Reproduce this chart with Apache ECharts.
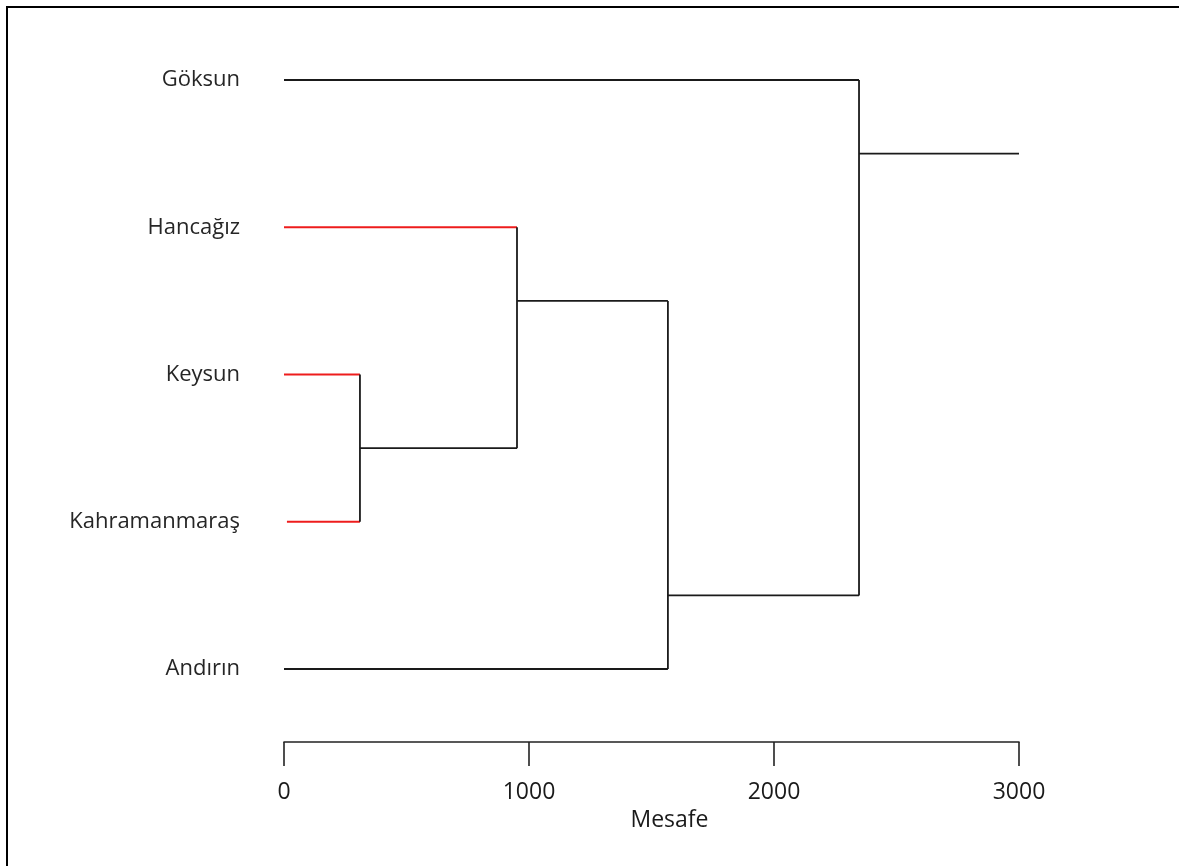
<!DOCTYPE html>
<html>
<head>
<meta charset="utf-8">
<script src="https://cdn.jsdelivr.net/npm/echarts@6/dist/echarts.min.js"></script>
<style>
  html, body { margin: 0; padding: 0; background: #fff; }
  #dendro { width: 1179px; height: 866px; }
</style>
</head>
<body>
<div id="dendro"></div>
<script>
// yapraklar (leaves), yukaridan asagiya
var leaves = ['Göksun', 'Hancağız', 'Keysun', 'Kahramanmaraş', 'Andırın'];
var leafStart = [0, 0, 0, 12, 0];          // yaprak cizgisinin basladigi mesafe
var leafRed = [false, true, true, true, false];

// birlesme dugumleri
var nodeNames = ['A', 'B', 'C', 'D'];
var nodeHeight = [310, 951, 1567, 2347];   // birlesme mesafesi
var nodeRow = [2.5, 1.5, 3.5, 0.5];        // dugumun dikey konumu (satir)
var nodeChildren = [[2, 3], [1, 'A'], ['B', 4], [0, 'C']];
var rootEnd = 3000;

var xTicks = [0, 1000, 2000, 3000];

var info = function (c) {
	if (typeof c === 'number') {
		return { x: leafStart[c], y: c, red: leafRed[c] };
	}
	var k = nodeNames.indexOf(c);
	return { x: nodeHeight[k], y: nodeRow[k], red: false };
};

// segment listesi: [x1, y1, x2, y2, kirmizi mi]
var segs = [];
for (var i = 0; i < nodeNames.length; i++) {
	var h = nodeHeight[i];
	var a = info(nodeChildren[i][0]);
	var b = info(nodeChildren[i][1]);
	segs.push([a.x, a.y, h, a.y, a.red ? 1 : 0]);
	segs.push([b.x, b.y, h, b.y, b.red ? 1 : 0]);
	segs.push([h, a.y, h, b.y, 0]);
}
var last = nodeNames.length - 1;
segs.push([nodeHeight[last], nodeRow[last], rootEnd, nodeRow[last], 0]);

var myChart = echarts.init(document.getElementById('dendro'));
var option = {
	backgroundColor: '#fff',
	animation: false,
	textStyle: { fontFamily: 'Open Sans' },
	graphic: [{
		type: 'rect',
		shape: { x: 7, y: 7, width: 1220, height: 920 },
		style: { fill: 'none', stroke: '#000', lineWidth: 2 }
	}],
	grid: { left: 284, right: 160, top: 80, height: 589 },
	xAxis: {
		type: 'value',
		position: 'bottom',
		min: 0,
		max: 3000,
		interval: 1000,
		offset: 73,
		name: 'Mesafe',
		nameLocation: 'middle',
		nameGap: 67,
		nameTextStyle: { color: '#1a1a1a', fontSize: 23, padding: [0, 0, 0, 36] },
		splitLine: { show: false },
		axisLine: { onZero: false, lineStyle: { color: '#222', width: 1.6 } },
		axisTick: { length: 24, lineStyle: { color: '#222', width: 1.6 } },
		axisLabel: {
			color: '#1a1a1a',
			fontSize: 23,
			margin: 39,
			formatter: function (v) { return xTicks.indexOf(v) >= 0 ? String(v) : ''; }
		}
	},
	yAxis: {
		type: 'value',
		min: 0,
		max: 4,
		interval: 1,
		inverse: true,
		axisLine: { show: false },
		axisTick: { show: false },
		splitLine: { show: false },
		axisLabel: {
			color: '#262626',
			fontSize: 22,
			margin: 44,
			padding: [4, 0, 0, 0],
			formatter: function (v) { return leaves[v] || ''; }
		}
	},
	series: [{
		type: 'custom',
		clip: false,
		data: segs,
		encode: { x: [0, 2], y: [1, 3] },
		renderItem: function (params, api) {
			var p1 = api.coord([api.value(0), api.value(1)]);
			var p2 = api.coord([api.value(2), api.value(3)]);
			return {
				type: 'line',
				shape: { x1: p1[0], y1: p1[1], x2: p2[0], y2: p2[1] },
				style: { stroke: api.value(4) ? '#ee1c1c' : '#1a1a1a', lineWidth: 1.8 }
			};
		}
	}]
};
myChart.setOption(option);
</script>
</body>
</html>
